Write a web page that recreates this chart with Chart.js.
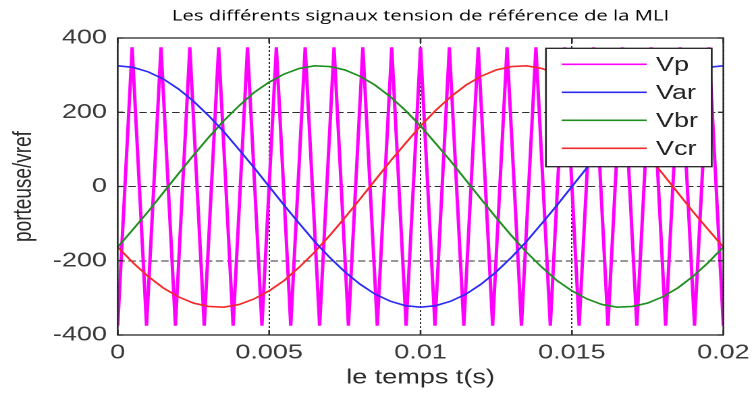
<!DOCTYPE html>
<html>
<head>
<meta charset="utf-8">
<title>Signaux de référence MLI</title>
<script src="https://cdn.jsdelivr.net/npm/chart.js@4"></script>
<style>
  html, body { margin: 0; padding: 0; background: #fff; overflow: hidden; }
  /* la figure d'origine est étirée horizontalement */
  #wrap { width: 557px; height: 396px; transform: scaleX(1.35); transform-origin: 0 0; }
</style>
</head>
<body>
<div id="wrap"><canvas id="mli"></canvas></div>
<script>
// temps (s) des références sinusoïdales, pas de 0.5 ms
const tRef = [0, 0.0005, 0.001, 0.0015, 0.002, 0.0025, 0.003, 0.0035, 0.004, 0.0045,
  0.005, 0.0055, 0.006, 0.0065, 0.007, 0.0075, 0.008, 0.0085, 0.009, 0.0095,
  0.01, 0.0105, 0.011, 0.0115, 0.012, 0.0125, 0.013, 0.0135, 0.014, 0.0145,
  0.015, 0.0155, 0.016, 0.0165, 0.017, 0.0175, 0.018, 0.0185, 0.019, 0.0195, 0.02];

const vAr = [325, 321, 309, 290, 263, 230, 191, 148, 100, 51,
  0, -51, -100, -148, -191, -230, -263, -290, -309, -321,
  -325, -321, -309, -290, -263, -230, -191, -148, -100, -51,
  0, 51, 100, 148, 191, 230, 263, 290, 309, 321, 325];

const vBr = [-163, -116, -68, -17, 34, 84, 132, 177, 217, 253,
  281, 303, 318, 325, 323, 314, 297, 273, 242, 205,
  163, 116, 68, 17, -34, -84, -132, -177, -217, -253,
  -281, -303, -318, -325, -323, -314, -297, -273, -242, -205, -163];

const vCr = [-163, -205, -242, -273, -297, -314, -323, -325, -318, -303,
  -281, -253, -217, -177, -132, -84, -34, 17, 68, 116,
  163, 205, 242, 273, 297, 314, 323, 325, 318, 303,
  281, 253, 217, 177, 132, 84, 34, -17, -68, -116, -163];

// sommets de la porteuse triangulaire (creux / crêtes)
const tPort = [0, 0.000476, 0.000952, 0.001429, 0.001905, 0.002381, 0.002857, 0.003333,
  0.00381, 0.004286, 0.004762, 0.005238, 0.005714, 0.00619, 0.006667, 0.007143,
  0.007619, 0.008095, 0.008571, 0.009048, 0.009524, 0.01, 0.010476, 0.010952,
  0.011429, 0.011905, 0.012381, 0.012857, 0.013333, 0.01381, 0.014286, 0.014762,
  0.015238, 0.015714, 0.01619, 0.016667, 0.017143, 0.017619, 0.018095, 0.018571,
  0.019048, 0.019524, 0.02];

const vPort = [-375, 375, -375, 375, -375, 375, -375, 375, -375, 375,
  -375, 375, -375, 375, -375, 375, -375, 375, -375, 375,
  -375, 375, -375, 375, -375, 375, -375, 375, -375, 375,
  -375, 375, -375, 375, -375, 375, -375, 375, -375, 375,
  -375, 375, -375];

const xTicks = [0, 0.005, 0.01, 0.015, 0.02];
const yTicks = [-400, -200, 0, 200, 400];

const toPoints = (ts, vs) => ts.map((t, i) => ({ x: t, y: vs[i] }));

// cadre + petites graduations intérieures (style Matlab)
const framePlugin = {
  id: 'frame',
  afterDatasetsDraw(chart) {
    const { ctx, chartArea: a, scales: { x, y } } = chart;
    ctx.save();
    ctx.setLineDash([]);
    ctx.strokeStyle = '#2b2b2b';
    ctx.lineWidth = 1.3;
    ctx.strokeRect(a.left, a.top, a.right - a.left, a.bottom - a.top);
    ctx.beginPath();
    xTicks.forEach(v => {
      const px = x.getPixelForValue(v);
      ctx.moveTo(px, a.bottom); ctx.lineTo(px, a.bottom - 5);
      ctx.moveTo(px, a.top); ctx.lineTo(px, a.top + 5);
    });
    yTicks.forEach(v => {
      const py = y.getPixelForValue(v);
      ctx.moveTo(a.left, py); ctx.lineTo(a.left + 4, py);
      ctx.moveTo(a.right, py); ctx.lineTo(a.right - 4, py);
    });
    ctx.stroke();
    ctx.restore();
  }
};

// légende encadrée dans le coin haut droit
const boxLegend = {
  id: 'boxLegend',
  afterDraw(chart) {
    const { ctx, chartArea: a } = chart;
    const right = a.right - 8.6, top = a.top + 10.3;
    const left = right - 122.8, bottom = top + 118.4;
    ctx.save();
    ctx.fillStyle = '#fff';
    ctx.fillRect(left, top, right - left, bottom - top);
    ctx.strokeStyle = '#222';
    ctx.lineWidth = 1.3;
    ctx.strokeRect(left, top, right - left, bottom - top);
    ctx.font = '20px "Liberation Sans", Arial, sans-serif';
    ctx.textBaseline = 'middle';
    chart.data.datasets.forEach((ds, i) => {
      const yy = top + 16 + i * 28;
      ctx.strokeStyle = ds.borderColor;
      ctx.lineWidth = 1.6;
      ctx.beginPath();
      ctx.moveTo(left + 11.7, yy);
      ctx.lineTo(left + 74.6, yy);
      ctx.stroke();
      ctx.fillStyle = '#222';
      ctx.fillText(ds.label, left + 81.5, yy + 1);
    });
    ctx.restore();
  }
};

const tickFont = { family: '"Liberation Sans", Arial, sans-serif', size: 20 };

new Chart(document.getElementById('mli'), {
  type: 'line',
  data: {
    datasets: [
      { label: 'Vp', data: toPoints(tPort, vPort), borderColor: '#ff00ff', borderWidth: 2.5, order: 1 },
      { label: 'Var', data: toPoints(tRef, vAr), borderColor: '#2b2bf5', borderWidth: 1.6, order: 0 },
      { label: 'Vbr', data: toPoints(tRef, vBr), borderColor: '#1f8f1f', borderWidth: 1.6, order: 0 },
      { label: 'Vcr', data: toPoints(tRef, vCr), borderColor: '#f52a2a', borderWidth: 1.6, order: 0 }
    ]
  },
  options: {
    responsive: true,
    maintainAspectRatio: false,
    devicePixelRatio: 2,
    animation: false,
    elements: { point: { radius: 0 }, line: { tension: 0 } },
    layout: { padding: { left: 0, right: 21.2, top: 0, bottom: 0 } },
    plugins: {
      legend: { display: false },
      tooltip: { enabled: false },
      title: {
        display: true,
        fullSize: false,
        text: 'Les différents signaux tension de référence de la MLI',
        color: '#000',
        font: { family: '"Open Sans", sans-serif', size: 15, weight: 'normal' },
        padding: { top: 7, bottom: 13 }
      }
    },
    scales: {
      x: {
        type: 'linear',
        min: 0,
        max: 0.02,
        afterBuildTicks: s => { s.ticks = xTicks.map(v => ({ value: v })); },
        afterFit: s => { s.height = 61; s.paddingLeft = 0; s.paddingRight = 0; },
        ticks: { color: '#3a3a3a', font: tickFont, padding: 6, maxRotation: 0, callback: v => String(v) },
        grid: { color: '#2e2e2e', lineWidth: 1, drawTicks: false },
        border: { display: false, dash: [2, 2] },
        title: {
          display: true,
          text: 'le temps t(s)',
          color: '#2a2a2a',
          font: { family: '"Liberation Sans", Arial, sans-serif', size: 20 },
          padding: { top: 0, bottom: 6 }
        }
      },
      y: {
        min: -400,
        max: 400,
        afterBuildTicks: s => { s.ticks = yTicks.map(v => ({ value: v })); },
        afterFit: s => { s.width = 87.2; },
        ticks: { color: '#3a3a3a', font: tickFont, padding: 8 },
        grid: { color: '#2e2e2e', lineWidth: 1, drawTicks: false },
        border: { display: false, dash: [5.5, 2.6] },
        title: {
          display: true,
          text: 'porteuse/vref',
          color: '#2a2a2a',
          font: { family: '"Liberation Sans", Arial, sans-serif', size: 19 },
          padding: { top: 6.5, bottom: 0 }
        }
      }
    }
  },
  plugins: [framePlugin, boxLegend]
});
</script>
</body>
</html>
